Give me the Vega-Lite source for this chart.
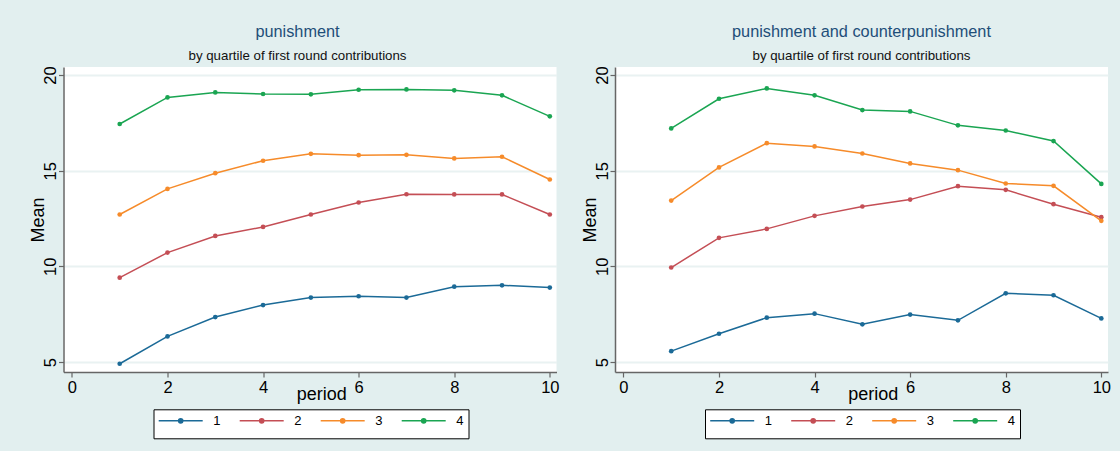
{
  "$schema": "https://vega.github.io/schema/vega-lite/v6.json",
  "background": "#e2efef",
  "padding": {"left": 29.5, "top": 24, "right": 10, "bottom": 14},
  "spacing": 21.5,
  "datasets": {
    "d": [
      {"panel": "p", "q": "1", "period": 1, "mean": 4.91},
      {"panel": "p", "q": "1", "period": 2, "mean": 6.34},
      {"panel": "p", "q": "1", "period": 3, "mean": 7.35},
      {"panel": "p", "q": "1", "period": 4, "mean": 7.98},
      {"panel": "p", "q": "1", "period": 5, "mean": 8.37},
      {"panel": "p", "q": "1", "period": 6, "mean": 8.44},
      {"panel": "p", "q": "1", "period": 7, "mean": 8.37},
      {"panel": "p", "q": "1", "period": 8, "mean": 8.94},
      {"panel": "p", "q": "1", "period": 9, "mean": 9.01},
      {"panel": "p", "q": "1", "period": 10, "mean": 8.89},
      {"panel": "p", "q": "2", "period": 1, "mean": 9.41},
      {"panel": "p", "q": "2", "period": 2, "mean": 10.72},
      {"panel": "p", "q": "2", "period": 3, "mean": 11.59},
      {"panel": "p", "q": "2", "period": 4, "mean": 12.06},
      {"panel": "p", "q": "2", "period": 5, "mean": 12.71},
      {"panel": "p", "q": "2", "period": 6, "mean": 13.34},
      {"panel": "p", "q": "2", "period": 7, "mean": 13.77},
      {"panel": "p", "q": "2", "period": 8, "mean": 13.76},
      {"panel": "p", "q": "2", "period": 9, "mean": 13.76},
      {"panel": "p", "q": "2", "period": 10, "mean": 12.71},
      {"panel": "p", "q": "3", "period": 1, "mean": 12.71},
      {"panel": "p", "q": "3", "period": 2, "mean": 14.05},
      {"panel": "p", "q": "3", "period": 3, "mean": 14.87},
      {"panel": "p", "q": "3", "period": 4, "mean": 15.52},
      {"panel": "p", "q": "3", "period": 5, "mean": 15.88},
      {"panel": "p", "q": "3", "period": 6, "mean": 15.81},
      {"panel": "p", "q": "3", "period": 7, "mean": 15.83},
      {"panel": "p", "q": "3", "period": 8, "mean": 15.64},
      {"panel": "p", "q": "3", "period": 9, "mean": 15.73},
      {"panel": "p", "q": "3", "period": 10, "mean": 14.54},
      {"panel": "p", "q": "4", "period": 1, "mean": 17.44},
      {"panel": "p", "q": "4", "period": 2, "mean": 18.83},
      {"panel": "p", "q": "4", "period": 3, "mean": 19.09},
      {"panel": "p", "q": "4", "period": 4, "mean": 19.01},
      {"panel": "p", "q": "4", "period": 5, "mean": 18.99},
      {"panel": "p", "q": "4", "period": 6, "mean": 19.23},
      {"panel": "p", "q": "4", "period": 7, "mean": 19.25},
      {"panel": "p", "q": "4", "period": 8, "mean": 19.2},
      {"panel": "p", "q": "4", "period": 9, "mean": 18.94},
      {"panel": "p", "q": "4", "period": 10, "mean": 17.84},
      {"panel": "pc", "q": "1", "period": 1, "mean": 5.57},
      {"panel": "pc", "q": "1", "period": 2, "mean": 6.48},
      {"panel": "pc", "q": "1", "period": 3, "mean": 7.32},
      {"panel": "pc", "q": "1", "period": 4, "mean": 7.53},
      {"panel": "pc", "q": "1", "period": 5, "mean": 6.97},
      {"panel": "pc", "q": "1", "period": 6, "mean": 7.48},
      {"panel": "pc", "q": "1", "period": 7, "mean": 7.18},
      {"panel": "pc", "q": "1", "period": 8, "mean": 8.59},
      {"panel": "pc", "q": "1", "period": 9, "mean": 8.49},
      {"panel": "pc", "q": "1", "period": 10, "mean": 7.28},
      {"panel": "pc", "q": "2", "period": 1, "mean": 9.94},
      {"panel": "pc", "q": "2", "period": 2, "mean": 11.49},
      {"panel": "pc", "q": "2", "period": 3, "mean": 11.96},
      {"panel": "pc", "q": "2", "period": 4, "mean": 12.64},
      {"panel": "pc", "q": "2", "period": 5, "mean": 13.13},
      {"panel": "pc", "q": "2", "period": 6, "mean": 13.49},
      {"panel": "pc", "q": "2", "period": 7, "mean": 14.19},
      {"panel": "pc", "q": "2", "period": 8, "mean": 14.0},
      {"panel": "pc", "q": "2", "period": 9, "mean": 13.25},
      {"panel": "pc", "q": "2", "period": 10, "mean": 12.57},
      {"panel": "pc", "q": "3", "period": 1, "mean": 13.44},
      {"panel": "pc", "q": "3", "period": 2, "mean": 15.17},
      {"panel": "pc", "q": "3", "period": 3, "mean": 16.44},
      {"panel": "pc", "q": "3", "period": 4, "mean": 16.27},
      {"panel": "pc", "q": "3", "period": 5, "mean": 15.9},
      {"panel": "pc", "q": "3", "period": 6, "mean": 15.38},
      {"panel": "pc", "q": "3", "period": 7, "mean": 15.03},
      {"panel": "pc", "q": "3", "period": 8, "mean": 14.33},
      {"panel": "pc", "q": "3", "period": 9, "mean": 14.21},
      {"panel": "pc", "q": "3", "period": 10, "mean": 12.38},
      {"panel": "pc", "q": "4", "period": 1, "mean": 17.21},
      {"panel": "pc", "q": "4", "period": 2, "mean": 18.76},
      {"panel": "pc", "q": "4", "period": 3, "mean": 19.3},
      {"panel": "pc", "q": "4", "period": 4, "mean": 18.94},
      {"panel": "pc", "q": "4", "period": 5, "mean": 18.17},
      {"panel": "pc", "q": "4", "period": 6, "mean": 18.1},
      {"panel": "pc", "q": "4", "period": 7, "mean": 17.37},
      {"panel": "pc", "q": "4", "period": 8, "mean": 17.1},
      {"panel": "pc", "q": "4", "period": 9, "mean": 16.55},
      {"panel": "pc", "q": "4", "period": 10, "mean": 14.31}
    ]
  },
  "config": {
    "font": "Liberation Sans",
    "view": {"fill": "white", "stroke": null},
    "title": {"font": "Liberation Sans", "fontSize": 16.3, "fontWeight": "normal", "color": "#1e4e79", "anchor": "middle", "frame": "group", "subtitleFont": "Liberation Sans", "subtitleFontSize": 13.3, "subtitleColor": "#111", "subtitlePadding": 8, "offset": 4},
    "axis": {"domainColor": "#666", "domainWidth": 1.5, "tickColor": "#666", "tickWidth": 1.2, "tickSize": 5, "labelFont": "Liberation Sans", "labelFontSize": 16.5, "labelColor": "#000", "titleFont": "Liberation Sans", "titleFontSize": 18, "titleFontWeight": "normal", "titleColor": "#000", "gridColor": "#e9f2f2", "gridWidth": 2},
    "legend": {"labelFont": "Liberation Sans", "labelFontSize": 13, "labelColor": "#000"}
  },
  "resolve": {"scale": {"color": "independent"}, "legend": {"color": "independent"}},
  "hconcat": [
    {
      "width": 493, "height": 305,
      "title": {"text": "punishment", "subtitle": "by quartile of first round contributions", "dx": -12.5},
      "data": {"name": "d"},
      "transform": [{"filter": "datum.panel == 'p'"}],
      "mark": {"type": "line", "strokeWidth": 1.5, "point": {"filled": true, "size": 22}},
      "encoding": {
        "x": {"field": "period", "type": "quantitative", "scale": {"domain": [-0.176, 10.14], "nice": false, "zero": false},
              "axis": {"values": [0, 2, 4, 6, 8, 10], "title": "period", "grid": false, "labelPadding": 2, "labelFlush": false, "titleX": 257.7, "titleY": 27.6, "titleBaseline": "alphabetic", "titleAlign": "center"}},
        "y": {"field": "mean", "type": "quantitative", "scale": {"domain": [4.48, 20.42], "nice": false, "zero": false},
              "axis": {"values": [5, 10, 15, 20], "title": "Mean", "grid": true, "labelAngle": -90, "labelPadding": 0, "labelFlush": false, "titlePadding": -5}},
        "color": {"field": "q", "type": "nominal",
                  "scale": {"domain": ["1", "2", "3", "4"], "range": ["#1b6a97", "#c44e55", "#f68b2a", "#1aa552"]},
                  "legend": {"title": null, "orient": "none", "legendX": 90, "legendY": 342.3, "direction": "horizontal",
                             "fillColor": "white", "strokeColor": "#000", "padding": 5,
                             "symbolType": "M0,-1.9M0,1.9M-1.26,0H7.54M2.72,0A0.42,0.42,0,1,0,3.56,0A0.42,0.42,0,1,0,2.72,0Z",
                             "symbolSize": 100, "symbolStrokeWidth": 1.5, "labelOffset": 41.7, "columnPadding": 16,
                             "encode": {"symbols": {"update": {"fill": {"signal": "{'1':'#1b6a97','2':'#c44e55','3':'#f68b2a','4':'#1aa552'}[datum.label]"}}}}}}
      }
    },
    {
      "width": 493, "height": 305,
      "title": {"text": "punishment and counterpunishment", "subtitle": "by quartile of first round contributions", "dx": 0},
      "data": {"name": "d"},
      "transform": [{"filter": "datum.panel == 'pc'"}],
      "mark": {"type": "line", "strokeWidth": 1.5, "point": {"filled": true, "size": 22}},
      "encoding": {
        "x": {"field": "period", "type": "quantitative", "scale": {"domain": [-0.176, 10.14], "nice": false, "zero": false},
              "axis": {"values": [0, 2, 4, 6, 8, 10], "title": "period", "grid": false, "labelPadding": 2, "labelFlush": false, "titleX": 257.7, "titleY": 27.6, "titleBaseline": "alphabetic", "titleAlign": "center"}},
        "y": {"field": "mean", "type": "quantitative", "scale": {"domain": [4.48, 20.42], "nice": false, "zero": false},
              "axis": {"values": [5, 10, 15, 20], "title": "Mean", "grid": true, "labelAngle": -90, "labelPadding": 0, "labelFlush": false, "titlePadding": -5}},
        "color": {"field": "q", "type": "nominal",
                  "scale": {"domain": ["1", "2", "3", "4"], "range": ["#1b6a97", "#c44e55", "#f68b2a", "#1aa552"]},
                  "legend": {"title": null, "orient": "none", "legendX": 90, "legendY": 342.3, "direction": "horizontal",
                             "fillColor": "white", "strokeColor": "#000", "padding": 5,
                             "symbolType": "M0,-1.9M0,1.9M-1.26,0H7.54M2.72,0A0.42,0.42,0,1,0,3.56,0A0.42,0.42,0,1,0,2.72,0Z",
                             "symbolSize": 100, "symbolStrokeWidth": 1.5, "labelOffset": 41.7, "columnPadding": 16,
                             "encode": {"symbols": {"update": {"fill": {"signal": "{'1':'#1b6a97','2':'#c44e55','3':'#f68b2a','4':'#1aa552'}[datum.label]"}}}}}}
      }
    }
  ]
}
